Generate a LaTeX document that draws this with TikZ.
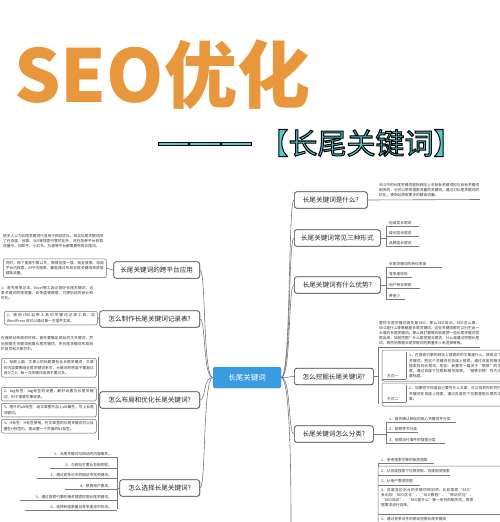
\documentclass[tikz,border=0pt]{standalone}
\usepackage{fontspec}
\setmainfont{Noto Sans CJK SC}
\newfontfamily\outlfont{Noto Sans CJK SC}[FakeBold=3.5]
\usetikzlibrary{shadows}
\XeTeXlinebreaklocale "zh"
\XeTeXlinebreakskip = 0pt plus 1pt
\definecolor{seoorange}{HTML}{E9973C}
\definecolor{tealc}{HTML}{52CAD2}
\definecolor{cblue}{HTML}{3B9BE0}
\definecolor{lnc}{HTML}{7A7A7A}
\begin{document}
\begin{tikzpicture}[x=1pt,y=-1pt,
  branch/.style={draw=black!75, line width=0.7pt, rounded corners=2.5pt, fill=white,
    font=\fontsize{6.6}{8}\selectfont, text=black!85, inner xsep=4pt, inner ysep=0pt,
    minimum height=16.5pt, drop shadow={shadow xshift=0.7pt, shadow yshift=-0.7pt, opacity=0.35}},
  central/.style={fill=cblue, rounded corners=2pt, text=white, font=\fontsize{7.5}{9}\selectfont,
    minimum width=68pt, minimum height=21pt, inner sep=0pt},
  conn/.style={draw=lnc, line width=0.6pt},
  tiny/.style={font=\fontsize{3.7}{5.2}\selectfont, align=justify, inner sep=0pt, text=black!80},
  item/.style={font=\fontsize{3.7}{5}\selectfont, inner sep=0pt, text=black!80},
  leafbox/.style={draw=black!55, line width=0.5pt, rounded corners=2pt, fill=white,
    drop shadow={shadow xshift=0.5pt, shadow yshift=-0.5pt, opacity=0.25}},
  subt/.style={font=\outlfont\fontsize{29}{32}\selectfont, inner sep=0pt}
]
\useasboundingbox (0,0) rectangle (500,522);
\fill[white] (0,0) rectangle (500,522);
\begin{scope}
\clip (0,0) rectangle (500,522);

% ---------- title ----------
\node[anchor=base west, inner sep=0pt, text=seoorange,
  font=\fontsize{73}{78}\selectfont\bfseries] (title) at (14,102) {SEO优化};
\foreach \a in {158,189.5,221}
  \draw[black, fill=tealc, line width=0.6pt] (\a,141.8) rectangle ++(30.5,3);
\node[subt] (sub) at (361,143)
  {\special{pdf:bcolor [0.322 0.792 0.824] [0 0 0]}【长尾关键词】\special{pdf:ecolor}};

% ---------- centre ----------
\node[central] (c) at (247,377.5) {长尾关键词};

% ---------- right branches ----------
\node[branch, anchor=west, minimum width=73pt] (b1) at (294,200) {长尾关键词是什么?};
\node[branch, anchor=west, minimum width=86pt] (b2) at (294,238) {长尾关键词常见三种形式};
\node[branch, anchor=west, minimum width=86pt] (b3) at (294,285) {长尾关键词有什么优势?};
\node[branch, anchor=west, minimum width=79pt] (b4) at (294,376.5) {怎么挖掘长尾关键词?};
\node[branch, anchor=west, minimum width=79pt] (b5) at (294,434) {长尾关键词怎么分类?};
\coordinate (b6) at (291,530);

% ---------- left branches ----------
\node[branch, anchor=east, minimum width=86pt] (l1) at (200,270) {长尾关键词的跨平台应用};
\node[branch, anchor=east, minimum width=100pt] (l2) at (200,319) {怎么制作长尾关键词记录表?};
\node[branch, anchor=east, minimum width=100pt] (l3) at (200,400) {怎么布局和优化长尾关键词?};
\node[branch, anchor=east, minimum width=80pt] (l4) at (200,488) {怎么选择长尾关键词?};

% trunk connectors
\foreach \b in {b1,b2,b3,b4,b5}
  \draw[conn] (c.east) .. controls +(10,0) and +(-6,0) .. (\b.west);
\draw[conn] (c.east) .. controls +(10,0) and +(0,-30) .. (b6);
\foreach \l in {l1,l2,l3,l4}
  \draw[conn] (c.west) .. controls +(-10,0) and +(6,0) .. (\l.east);
\node[central] at (c) {长尾关键词};

% ---------- b1 leaf ----------
\node[tiny, text width=100pt, anchor=south west] (t1) at (379,197.5)
  {SEO中的长尾关键词是指网站上非目标关键词但与目标关键词相关的，也可以带来搜索流量的关键词，通过对长尾关键词的优化，使网站获取更多的精准流量。};
\coordinate (t1e) at (480,199.5);
\draw[conn] (b1.east) -- (t1e);

% ---------- b2 leaves ----------
\coordinate (k2) at (386,238);
\draw[conn] (b2.east) -- (k2);
\draw[conn] (419,226) -- (386,226) -- (386,246) -- (419,246);
\draw[conn] (386,236) -- (419,236);
\node[item, anchor=base west] (f1) at (389,224.5) {地域类长尾词};
\node[item, anchor=base west] (f2) at (389,234.5) {疑问类长尾词};
\node[item, anchor=base west] (f3) at (389,244.5) {品牌类长尾词};

% ---------- b3 leaves ----------
\coordinate (k3) at (386,285);
\draw[conn] (b3.east) -- (k3);
\draw[conn] (442,267) -- (386,267) -- (386,299) -- (405,299);
\draw[conn] (386,277) -- (412,277);
\draw[conn] (386,288) -- (420,288);
\node[item, anchor=base west] (g1) at (389,265.5) {长尾关键词的转化率高};
\node[item, anchor=base west] (g2) at (389,275.5) {竞争度较低};
\node[item, anchor=base west] (g3) at (389,286.5) {用户转化率高};
\node[item, anchor=base west] (g4) at (389,297.5) {费用少};

% ---------- b4 leaves ----------
\node[tiny, text width=100pt, anchor=south west] (p4) at (379,345.5)
  {要挖长尾关键词首先是SEO，那么SEO培训、SEO怎么做、SEO是什么等等都是长尾关键词，这些关键词都可以衍生出一大堆的长尾关键词。那么我们要做的就是把一些长尾关键词挖掘出来，如何挖掘？什么是挖掘长尾词，什么是通过挖掘长尾词，再然后根据长尾关键词的数量多少来选择等等。};
\draw[conn] (378,347) -- (480,347);
\coordinate (k4) at (378,376.5);
\draw[conn] (b4.east) -- (k4);
\draw[conn] (378,347) -- (378,404);
\draw[leafbox] (382,350) rectangle (506,381);
\draw[leafbox] (382,383) rectangle (506,406);
\node[item, anchor=base west] (m1) at (387,377) {方式一};
\node[item, anchor=base west] (m2) at (387,400) {方式二};
\draw[conn] (382,379) -- (406,379);
\draw[conn] (382,402) -- (406,402);
\draw[conn] (406,352) -- (406,379);
\draw[conn] (406,385) -- (406,402);
\node[tiny, text width=92pt, anchor=north west] (q1) at (409,353.5)
  {1、在搜索引擎的网站上搜索你的文章是什么，使用这个关键词，把这个关键词在百度上搜索，通过百度的相关搜索找到长尾词，例如：我要写一篇关于“钢铁”的文章，通过百度下拉框和相关搜索，“钢铁价格”作为文章标题。};
\node[tiny, text width=92pt, anchor=north west] (q2) at (409,386.5)
  {2、如果你不知道自己要写什么文章，可以找到你的同行关键词在百度上搜索，通过百度的下拉框提取长尾的文章。};

% ---------- b5 leaves ----------
\coordinate (k5) at (386,434);
\draw[conn] (b5.east) -- (k5);
\draw[conn] (456,422) -- (386,422) -- (386,443) -- (445,443);
\draw[conn] (386,432) -- (418,432);
\node[item, anchor=base west] (h1) at (389,420.5) {1、首先确认网站的核心关键词并分类};
\node[item, anchor=base west] (h2) at (389,430.5) {2、按照季节分类};
\node[item, anchor=base west] (h3) at (389,441.5) {3、按照流行事件的搜索分类};

% ---------- b6 leaves (branch below the page) ----------
\draw[conn] (378,463) -- (378,530);
\draw[conn] (378,463) -- (434,463);
\node[item, anchor=base west] (r1) at (381,461.5) {1、参考搜索引擎的相关搜索};
\draw[leafbox] (378,466) rectangle (506,535);
\draw[conn] (378,475) -- (450,475);
\draw[conn] (378,485) -- (420,485);
\draw[conn] (378,514) -- (500,514);
\node[item, anchor=base west] (r2) at (381,472.5) {2、从百度搜索下拉框获取、百度相关搜索};
\node[item, anchor=base west] (r3) at (381,482.5) {3、从用户需求挖掘};
\node[tiny, text width=92pt, anchor=north west] (r4) at (381,488)
  {4、百度竞价后台的关键词规划师，比如搜索“SEO”会出现“SEO优化”、“SEO教程”、“网站优化”、“SEO培训”、“SEO是什么”等一系列的相关词，再根据需求进行选择。};
\node[item, anchor=base west] (r5) at (381,520.5) {5、通过竞争对手的网站挖掘长尾关键词};

% ---------- l1 leaves ----------
\node[tiny, text width=100pt, anchor=north west] (u1) at (3,234)
  {很多人以为长尾关键词只适用于网站优化，其实长尾关键词除了在百度、谷歌、360等搜索引擎优化外，还在各种平台获取流量中，如知乎、小红书、抖音等平台都需要布局长尾词。};
\node[leafbox, tiny, text width=98pt, inner sep=2.5pt, anchor=north west] (u2) at (3,258.5)
  {同时，除了搜索引擎以外，像微信搜一搜、淘宝搜索、电商平台内搜索、APP内搜索，都能通过布局长尾关键词来获取精准流量。};
\draw[conn] (u2.east) -- (l1.west);

% ---------- l2 leaves ----------
\node[tiny, text width=92pt, anchor=north west] (v1) at (1,286)
  {1、首先用笔记本、Excel等工具记录好长尾关键词，记录关键词的搜索量、竞争度等数据，方便后续的统计和优化。};
\node[leafbox, tiny, text width=88pt, inner sep=2.5pt, anchor=north west] (v2) at (4,311)
  {2、使用CMS自带工具的关键词记录工具，如WordPress 就可以通过第一方插件实现。};
\draw[conn] (v2.east) -- (l2.west);

% ---------- l3 leaves ----------
\node[tiny, text width=92pt, anchor=north west] (w0) at (1,336.5)
  {在做网站布局的时候，首先要确定网站的主关键词，然后根据主关键词拓展长尾关键词，将长尾关键词布局到栏目页和文章页中。};
\coordinate (k3l) at (98,400);
\draw[conn] (l3.west) -- (k3l);
\draw[conn] (98,357) -- (98,440);
\node[leafbox, tiny, text width=90pt, inner sep=2.5pt, anchor=north west] (w1) at (1,358)
  {1、标题上面：文章上的标题要包含长尾关键词，文章的内容要围绕长尾关键词来写，大概词的密度不要超过百分之8，每一次关键词出现不要过多。};
\node[leafbox, tiny, text width=90pt, inner sep=2.5pt, anchor=north west] (w2) at (1,387)
  {2、tag标签：tag标签的设置，最好设置为长尾关键词，利于搜索引擎收录。};
\node[leafbox, tiny, text width=90pt, inner sep=2.5pt, anchor=north west] (w3) at (1,403)
  {3、图片的alt标签：给文章图片加上alt属性，写上长尾关键词。};
\node[leafbox, tiny, text width=90pt, inner sep=2.5pt, anchor=north west] (w4) at (1,419)
  {4、H标签：H标签使用，在文章里的长尾关键词可以设置在H标签内，再设置一个页面的h1标签。};

% ---------- l4 leaves ----------
\coordinate (k4l) at (117,488);
\draw[conn] (l4.west) -- (k4l);
\draw[conn] (117,457) -- (117,509);
\foreach \y/\t/\s in {
   455/{1、长尾关键词与网站的内容相关。}/38,
   466/{2、与网站主要业务相关联。}/50,
   476/{3、通过竞争对手的网站寻找关键词。}/37,
   487/{4、根据用户需求。}/65,
   498/{5、通过搜索引擎的相关搜索挖掘长尾关键词。}/20,
   508/{6、选择有搜索量且竞争度适中的词。}/25}
{
  \node[item, anchor=base east] at (112,\y) {\t};
  \draw[conn] (\s,\y+2) -- (117,\y+2);
}
\end{scope}
\end{tikzpicture}
\end{document}
